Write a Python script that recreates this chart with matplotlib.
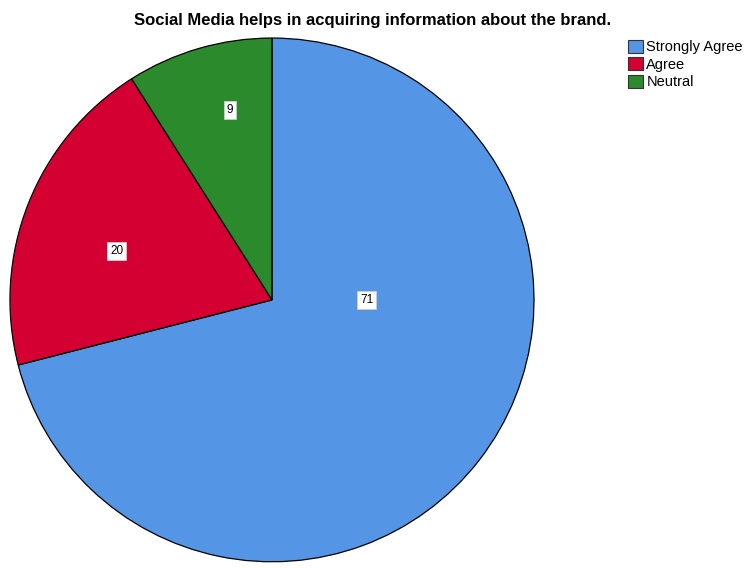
import matplotlib.pyplot as plt
from matplotlib.patches import Patch

plt.rcParams["font.family"] = ["Liberation Sans", "DejaVu Sans"]

# values
categories = ["Strongly Agree", "Agree", "Neutral"]
counts = [71, 20, 9]
colors = ["#5595e5", "#d50032", "#2b8a2b"]

fig = plt.figure(figsize=(7.45, 5.68), dpi=100)
ax = fig.add_axes([0.0134, 0.011, 0.7034, 0.922])

wedges, _ = ax.pie(
    counts,
    colors=colors,
    startangle=90,
    counterclock=False,
    radius=1,
    wedgeprops=dict(edgecolor="black", linewidth=0.9),
)
ax.set_xlim(-1, 1)
ax.set_ylim(-1, 1)
ax.set_aspect("auto")

# label spots (SPSS style, roughly at each slice's visual centre)
label_pos = [(0.362, 0.0), (-0.592, 0.187), (-0.160, 0.725)]
for (x, y), n in zip(label_pos, counts):
    ax.text(x, y, str(n), ha="center", va="center", fontsize=8.5,
            bbox=dict(boxstyle="square,pad=0.25", fc="white", ec="#cccccc", lw=0.6))

fig.text(0.5, 1 - 20 / 568,
         "Social Media helps in acquiring information about the brand.",
         ha="center", va="center", fontsize=12, fontweight="bold")

handles = [Patch(facecolor=c, edgecolor="#333333", linewidth=0.8) for c in colors]
fig.legend(handles, categories, loc="upper left", bbox_to_anchor=(0.843, 0.93),
           frameon=False, fontsize=10.5, handlelength=1.0, handleheight=1.0,
           handletextpad=0.25, labelspacing=0.2, borderaxespad=0, borderpad=0)

plt.savefig("out.png", dpi=100)
